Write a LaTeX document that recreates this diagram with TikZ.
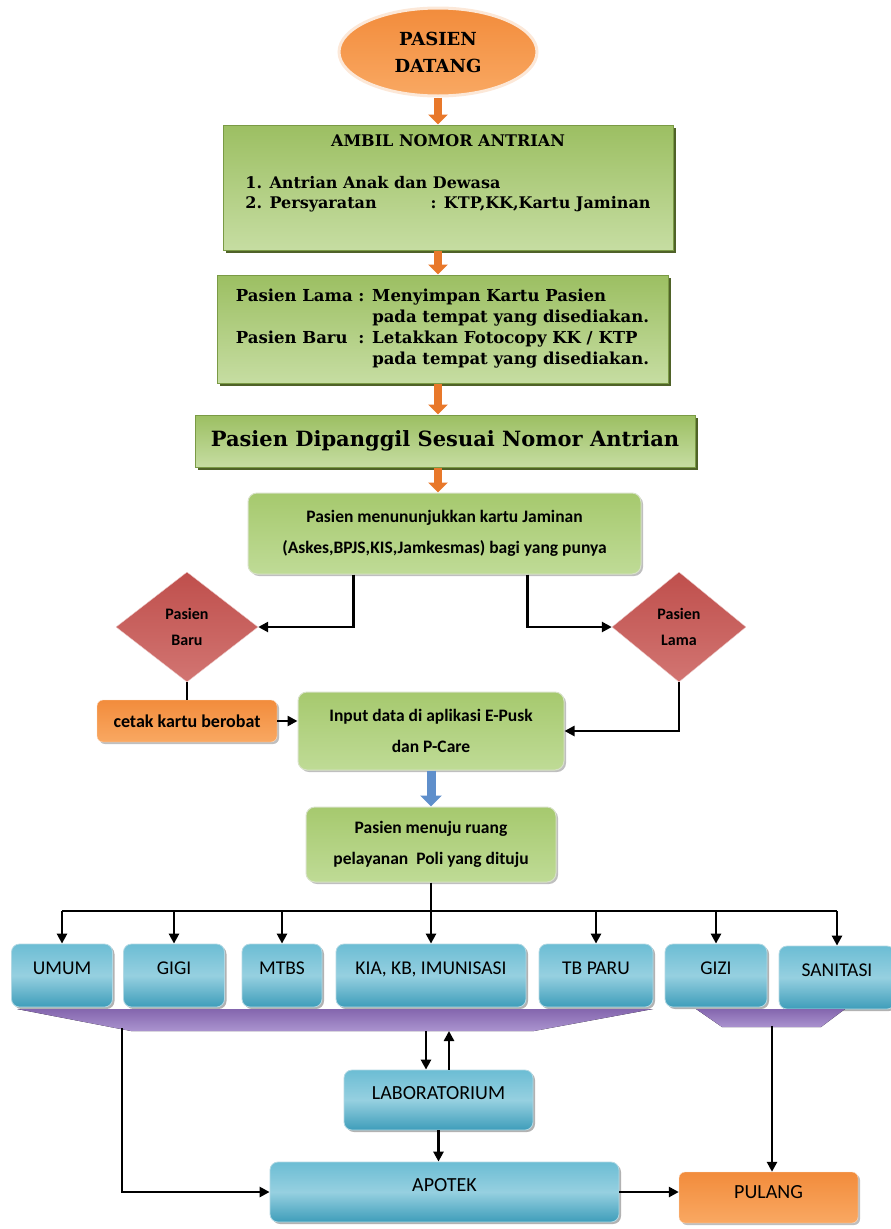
\documentclass[tikz,border=0pt]{standalone}
\usepackage{fontspec}
\setmainfont{DejaVu Serif}
\newfontfamily\calfont{Carlito}
\usetikzlibrary{shapes.geometric,arrows.meta,shadows}

\definecolor{grnA}{HTML}{9CBF62}
\definecolor{grnB}{HTML}{C6DDA2}
\definecolor{grnD}{HTML}{7A9A45}
\definecolor{grnS}{HTML}{4F6228}
\definecolor{grnR}{HTML}{A6C96E}
\definecolor{grnT}{HTML}{BFDB96}
\definecolor{oraA}{HTML}{F28C3C}
\definecolor{oraB}{HTML}{F9A862}
\definecolor{redA}{HTML}{BF4F4C}
\definecolor{redB}{HTML}{D27572}
\definecolor{bluA}{HTML}{6CBDD4}
\definecolor{bluM}{HTML}{96D0E0}
\definecolor{bluB}{HTML}{3E9DBA}
\definecolor{purA}{HTML}{8466AE}
\definecolor{purB}{HTML}{AA93CF}
\definecolor{arrO}{HTML}{E8782A}
\definecolor{arrB}{HTML}{5F8FCB}

\tikzset{
  sbox/.style={draw=grnD, line width=1pt, top color=grnA, bottom color=grnB,
    drop shadow={shadow xshift=2.5pt, shadow yshift=-2.5pt, fill=grnS, opacity=1},
    font=\bfseries},
  rbox/.style={rounded corners=9pt, draw=white!70!grnD, line width=1pt,
    top color=grnR, bottom color=grnT,
    drop shadow={shadow xshift=2pt, shadow yshift=-2pt, fill=black, opacity=.25},
    font=\calfont\bfseries\fontsize{17.5}{31}\selectfont, align=center},
  obox/.style={rounded corners=6pt, draw=white!70!oraA, top color=oraA, bottom color=oraB,
    drop shadow={shadow xshift=2pt, shadow yshift=-2pt, fill=black, opacity=.25},
    font=\calfont\bfseries\fontsize{18}{20}\selectfont},
  dbox/.style={diamond, draw=white!70!redA, top color=redA, bottom color=redB, inner sep=0pt,
    font=\calfont\bfseries\fontsize{16}{26}\selectfont, align=center},
  pbox/.style={rounded corners=8pt, draw=white!60!bluB, line width=.8pt,
    top color=bluA, bottom color=bluB, middle color=bluM,
    drop shadow={shadow xshift=2pt, shadow yshift=-2pt, fill=black, opacity=.3},
    font=\calfont\fontsize{19.5}{22}\selectfont, minimum height=63, text depth=15pt},
  arr/.style={line width=2.6pt, -{Triangle[length=10pt,width=10pt]}},
  link/.style={line width=2.6pt},
  oarr/.style={line width=8pt, arrO, -{Triangle[length=10pt,width=19pt]}},
  barr/.style={line width=9pt, arrB, -{Triangle[length=11pt,width=21pt]}}
}

\begin{document}
\begin{tikzpicture}[x=1pt,y=-1pt]
\useasboundingbox (0,0) rectangle (891,1229);

\node[ellipse, draw=white!80!oraA, line width=3pt, top color=oraA, bottom color=oraB,
  minimum width=198, minimum height=88, align=center,
  font=\bfseries\fontsize{18}{27}\selectfont] (datang) at (438,52) {PASIEN\\DATANG};

\node[sbox, minimum width=450, minimum height=125, font=\bfseries\fontsize{16}{20}\selectfont]
  (ambil) at (448,187.5)
  {\begin{tabular}{@{}l@{}}
   \multicolumn{1}{@{}c@{}}{AMBIL NOMOR ANTRIAN}\\[22pt]
   1. Antrian Anak dan Dewasa\\
   2. Persyaratan\hspace{54pt}: KTP,KK,Kartu Jaminan\\[28pt]
   \end{tabular}};

\node[sbox, minimum width=451, minimum height=108, font=\bfseries\fontsize{16.5}{20.8}\selectfont]
  (lapor) at (442.5,329)
  {\begin{tabular}{@{}l@{}l@{}}
   Pasien Lama~ & : Menyimpan Kartu Pasien\\
   & \phantom{: }pada tempat yang disediakan.\\
   Pasien Baru & : Letakkan Fotocopy KK / KTP\\
   & \phantom{: }pada tempat yang disediakan.
   \end{tabular}};

\node[sbox, minimum width=500, minimum height=52, font=\bfseries\fontsize{21}{24}\selectfont]
  (panggil) at (445,441) {Pasien Dipanggil Sesuai Nomor Antrian};

\node[rbox, minimum width=393, minimum height=81] (kartu) at (444.5,533.5)
  {Pasien menununjukkan kartu Jaminan\\(Askes,BPJS,KIS,Jamkesmas) bagi yang punya};

\node[dbox, minimum width=142, minimum height=110] (baru) at (187,627) {Pasien\\Baru};
\node[dbox, minimum width=134, minimum height=110] (lama) at (679,627) {Pasien\\Lama};

\node[obox, minimum width=180, minimum height=42] (cetak) at (187,721) {cetak kartu berobat};
\node[rbox, minimum width=266, minimum height=78] (input) at (431,731)
  {Input data di aplikasi E-Pusk\\dan P-Care};
\node[rbox, minimum width=250, minimum height=75] (menuju) at (431,844.5)
  {Pasien menuju ruang\\pelayanan\ \ Poli yang dituju};

\node[pbox, minimum width=101] (umum) at (62,975.5) {UMUM};
\node[pbox, minimum width=101] (gigi) at (174,975.5) {GIGI};
\node[pbox, minimum width=80] (mtbs) at (282,975.5) {MTBS};
\node[pbox, minimum width=190] (kia) at (431,975.5) {KIA, KB, IMUNISASI};
\node[pbox, minimum width=114] (tbparu) at (596,975.5) {TB PARU};
\node[pbox, minimum width=102] (gizi) at (716,975.5) {GIZI};
\node[pbox, minimum width=116] (sanitasi) at (837,977.5) {SANITASI};

\fill[top color=purA, bottom color=purB] (17,1009) -- (653,1009) -- (534,1031) -- (131,1031) -- cycle;
\fill[top color=purA, bottom color=purB] (696,1009) -- (845,1009) -- (821,1027) -- (722,1027) -- cycle;
\coordinate (ta) at (122,1028);
\coordinate (tdn) at (426,1031);
\coordinate (tup) at (449,1031);
\coordinate (tb) at (772,1026);

\node[pbox, minimum width=189, minimum height=60, font=\calfont\fontsize{20}{22}\selectfont]
  (lab) at (438.5,1100) {LABORATORIUM};
\node[pbox, minimum width=349, minimum height=60, font=\calfont\fontsize{20}{22}\selectfont]
  (apotek) at (444.5,1192) {APOTEK};
\node[obox, minimum width=179, minimum height=51, text depth=11pt,
  font=\calfont\fontsize{20}{22}\selectfont] (pulang) at (768.5,1197.5) {PULANG};

\draw[oarr] (datang.south) -- (datang.south |- ambil.north);
\draw[oarr] (ambil.south -| datang.south) -- (datang.south |- lapor.north);
\draw[oarr] (lapor.south -| datang.south) -- (datang.south |- panggil.north);
\draw[oarr] (panggil.south -| datang.south) -- (datang.south |- kartu.north);

\draw[arr] ([xshift=106pt]kartu.south west) |- (baru.east);
\draw[arr] ([xshift=-114pt]kartu.south east) |- (lama.west);
\draw[link] (baru.south) -- (cetak.north);
\draw[arr] (cetak.east) -- (cetak.east -| input.west);
\draw[arr] (lama.south) |- (input.east);
\draw[barr] (input.south) -- (menuju.north);

\coordinate (bus) at (431,911);
\draw[arr] (menuju.south) -- (kia.north);
\draw[link] (bus -| umum.north) -- (bus -| sanitasi.north);
\foreach \p in {umum,gigi,mtbs,tbparu,gizi,sanitasi}
    \draw[arr] (bus -| \p.north) -- (\p.north);

\draw[arr] (ta) |- (apotek.west);
\draw[arr] (tdn) -- (tdn |- lab.north);
\draw[arr] (tup |- lab.north) -- (tup);
\draw[arr] (lab.south) -- (lab.south |- apotek.north);
\draw[arr] (apotek.east) -- (apotek.east -| pulang.west);
\draw[arr] (tb) -- (tb |- pulang.north);
\end{tikzpicture}
\end{document}
